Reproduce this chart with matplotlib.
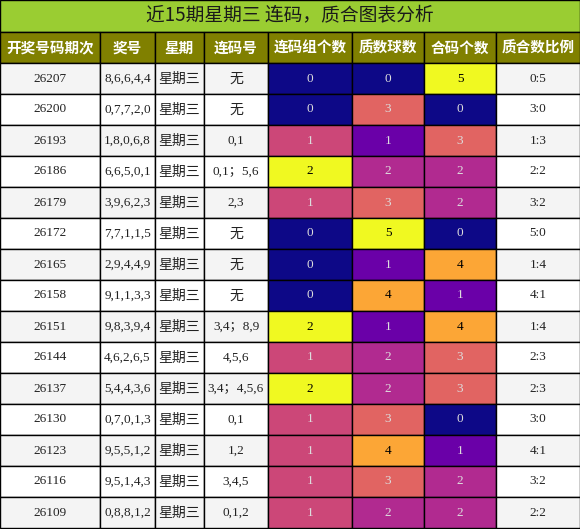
import matplotlib.pyplot as plt
from matplotlib.patches import Rectangle
import numpy as np

plt.rcParams['font.family'] = ['Noto Sans CJK SC', 'DejaVu Sans']

title = '近15期星期三 连码，质合图表分析'
headers = ['开奖号码期次', '奖号', '星期', '连码号', '连码组个数', '质数球数', '合码个数', '质合数比例']
issues = ['26207', '26200', '26193', '26186', '26179', '26172', '26165', '26158',
          '26151', '26144', '26137', '26130', '26123', '26116', '26109']
numbers = ['8,6,6,4,4', '0,7,7,2,0', '1,8,0,6,8', '6,6,5,0,1', '3,9,6,2,3', '7,7,1,1,5',
           '2,9,4,4,9', '9,1,1,3,3', '9,8,3,9,4', '4,6,2,6,5', '5,4,4,3,6', '0,7,0,1,3',
           '9,5,5,1,2', '9,5,1,4,3', '0,8,8,1,2']
consec = ['无', '无', '0,1', '0,1；5,6', '2,3', '无', '无', '无', '3,4；8,9', '4,5,6',
          '3,4；4,5,6', '0,1', '1,2', '3,4,5', '0,1,2']
groups = [0, 0, 1, 2, 1, 0, 0, 0, 2, 1, 2, 1, 1, 1, 1]
primes = [0, 3, 1, 2, 3, 5, 1, 4, 1, 2, 2, 3, 4, 3, 2]
composites = [5, 0, 3, 2, 2, 0, 4, 1, 4, 3, 3, 0, 1, 2, 2]

col_edges = [0, 100, 155, 204, 268, 352, 424, 496, 580]
W, H = 580, 529
title_h, head_h, row_h = 32, 31, 31

fig = plt.figure(figsize=(W / 100, H / 100), dpi=100)
ax = fig.add_axes([0, 0, 1, 1])
ax.set_xlim(0, W)
ax.set_ylim(H, 0)
ax.axis('off')

cmap = plt.get_cmap('plasma')

def cell(c, y0, h, fc):
    ax.add_patch(Rectangle((col_edges[c], y0), col_edges[c + 1] - col_edges[c], h,
                           facecolor=fc, edgecolor='black', lw=1))

def mid(c):
    return (col_edges[c] + col_edges[c + 1]) / 2

ax.add_patch(Rectangle((0, 0), W, title_h, facecolor='#9acd32', edgecolor='black', lw=1))
ax.text(W / 2, title_h / 2, title, ha='center', va='center', fontsize=13.5, color='#1a1a1a')

for c, hd in enumerate(headers):
    cell(c, title_h, head_h, '#808000')
    ax.text(mid(c), title_h + head_h / 2, hd, ha='center', va='center',
            fontsize=10.5, color='white', fontweight='bold')

for r in range(len(issues)):
    y0 = title_h + head_h + r * row_h
    yc = y0 + row_h / 2
    bg = '#f4f4f4' if r % 2 == 0 else 'white'
    texts = [issues[r], numbers[r], '星期三', consec[r]]
    for c, t in enumerate(texts):
        cell(c, y0, row_h, bg)
        fam = ['Noto Sans CJK SC'] if c == 2 or t == '无' else ['Liberation Serif', 'Noto Sans CJK SC']
        ax.text(mid(c), yc, t, ha='center', va='center', fontsize=9.5 if c != 2 and t != '无' else 10,
                family=fam, color='#222222')
    for c, val, vmax in [(4, groups[r], 2), (5, primes[r], 5), (6, composites[r], 5)]:
        f = val / vmax
        cell(c, y0, row_h, cmap(f))
        tc = 'black' if f > 0.7 else '#dddddd'
        ax.text(mid(c), yc, str(val), ha='center', va='center', fontsize=9.5,
                family='Liberation Serif', color=tc)
    pr = f'{primes[r]}:{composites[r]}'
    cell(7, y0, row_h, bg)
    ax.text(mid(7), yc, pr, ha='center', va='center', fontsize=9.5,
            family='Liberation Serif', color='#222222')

fig.savefig('out.png', dpi=100)
